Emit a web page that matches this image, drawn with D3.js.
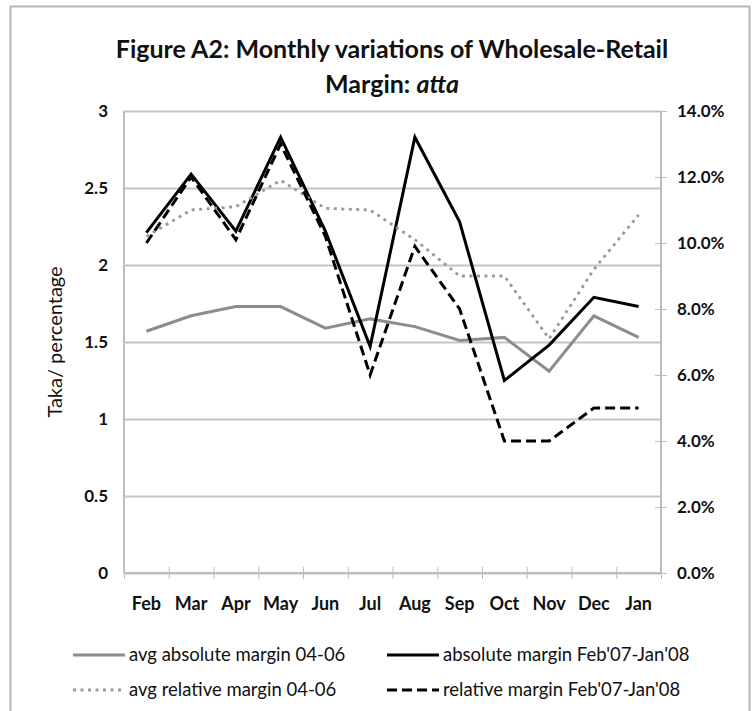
<!DOCTYPE html>
<html>
<head>
<meta charset="utf-8">
<script src="https://cdn.jsdelivr.net/npm/d3@7/dist/d3.min.js"></script>
<style>
  html, body { margin: 0; padding: 0; background: #fff; overflow: hidden; }
  #chart { width: 756px; height: 711px; }
  svg { display: block; }
  text { font-family: Lato, "Open Sans", sans-serif; fill: #111; }
</style>
</head>
<body>
<div id="chart"></div>
<script>
// Chart data
const months = ['Feb', 'Mar', 'Apr', 'May', 'Jun', 'Jul', 'Aug', 'Sep', 'Oct', 'Nov', 'Dec', 'Jan'];
// Taka, left axis
const avgAbsMargin = [1.57, 1.67, 1.73, 1.73, 1.59, 1.65, 1.60, 1.51, 1.53, 1.31, 1.67, 1.53];
const absMargin = [2.21, 2.59, 2.22, 2.83, 2.22, 1.47, 2.83, 2.28, 1.25, 1.48, 1.79, 1.73];
// percent, right axis
const avgRelMargin = [10.2, 11.0, 11.1, 11.9, 11.05, 11.0, 10.1, 9.0, 9.0, 7.1, 9.2, 10.85];
const relMargin = [10.0, 12.0, 10.1, 13.0, 10.2, 6.0, 9.9, 8.0, 4.0, 4.0, 5.0, 5.0];
const leftTicks = [0, 0.5, 1, 1.5, 2, 2.5, 3];
const rightTicks = [0, 2, 4, 6, 8, 10, 12, 14];

const seriesNames = [
  'avg absolute margin 04-06',
  "absolute margin Feb'07-Jan'08",
  'avg relative margin 04-06',
  "relative margin Feb'07-Jan'08",
];

const width = 756;
const height = 711;
const margins = { top: 111, right: 95, bottom: 138, left: 124 };
const innerWidth = width - margins.left - margins.right;
const innerHeight = height - margins.top - margins.bottom;

// line styles for each series
const styles = [
  { color: '#8c8c8c', width: 3, dash: null, axis: 'left', values: avgAbsMargin },
  { color: '#000', width: 3, dash: null, axis: 'left', values: absMargin },
  { color: '#9a9a9a', width: 2.8, dash: '3,4.5', axis: 'right', values: avgRelMargin },
  { color: '#000', width: 3, dash: '10,5', axis: 'right', values: relMargin },
];

const svg = d3.select('#chart')
  .append('svg')
  .attr('width', width)
  .attr('height', height);

// outer chart border (bottom edge runs off the picture)
svg.append('rect')
  .attr('x', 10.5)
  .attr('y', 6.5)
  .attr('width', 739)
  .attr('height', 720)
  .attr('fill', 'none')
  .attr('stroke', '#b5b5b5')
  .attr('stroke-width', 2);

// title
const title = svg.append('text')
  .attr('text-anchor', 'middle')
  .attr('font-size', 25)
  .attr('font-weight', 'bold');
title.append('tspan')
  .attr('x', 392).attr('y', 58)
  .text('Figure A2: Monthly variations of Wholesale-Retail');
const t2 = title.append('tspan')
  .attr('x', 392).attr('y', 93);
t2.append('tspan').text('Margin: ');
t2.append('tspan').attr('font-style', 'italic').text('atta');

const g = svg.append('g')
  .attr('transform', `translate(${margins.left}, ${margins.top})`);

// scales
const xScale = d3.scaleBand()
  .domain(months)
  .range([0, innerWidth]);

const xEdges = d3.scaleLinear()
  .domain([0, months.length])
  .range([0, innerWidth]);

const yLeft = d3.scaleLinear()
  .domain([0, 3])
  .range([innerHeight, 0]);

const yRight = d3.scaleLinear()
  .domain([0, 14])
  .range([innerHeight, 0]);

// left axis with gridlines
const yAxis = d3.axisLeft(yLeft)
  .tickValues(leftTicks)
  .tickFormat(d3.format('~g'))
  .tickSize(-innerWidth)
  .tickPadding(16);

const gy = g.append('g').attr('class', 'y axis').call(yAxis)
  .attr('font-family', null).attr('font-size', null);
gy.select('.domain').attr('stroke', '#bdbdbd').attr('stroke-width', 2).attr('d', `M0,0V${innerHeight}`);
gy.selectAll('.tick line').attr('stroke', '#c4c4c4').attr('stroke-width', 2);
gy.selectAll('.tick text')
  .attr('font-size', 17).attr('font-weight', 'bold')
  .attr('text-anchor', 'end').attr('fill', '#111');

// right axis, cross ticks
const yAxisR = d3.axisRight(yRight)
  .tickValues(rightTicks)
  .tickFormat(d => d3.format('.1f')(d) + '%')
  .tickSize(6)
  .tickPadding(10);

const gyr = g.append('g')
  .attr('class', 'y2 axis')
  .attr('transform', `translate(${innerWidth}, 0)`)
  .call(yAxisR)
  .attr('font-family', null).attr('font-size', null);
gyr.select('.domain').attr('stroke', '#bdbdbd').attr('stroke-width', 2).attr('d', `M0,0V${innerHeight}`);
gyr.selectAll('.tick line').attr('stroke', '#bdbdbd').attr('x1', -6).attr('x2', 6);
gyr.selectAll('.tick text')
  .attr('font-size', 17).attr('font-weight', 'bold')
  .attr('text-anchor', 'start').attr('fill', '#111');

// bottom axis: ticks on category edges, labels in the middle
const xTicks = d3.axisBottom(xEdges)
  .ticks(months.length)
  .tickFormat('')
  .tickSize(6);

const gxt = g.append('g')
  .attr('class', 'x ticks')
  .attr('transform', `translate(0, ${innerHeight})`)
  .call(xTicks);
gxt.selectAll('.tick text').remove();
gxt.select('.domain').attr('stroke', '#bdbdbd').attr('stroke-width', 2).attr('d', `M0,0H${innerWidth}`);
gxt.selectAll('.tick line').attr('stroke', '#bdbdbd').attr('y1', -6).attr('y2', 6);

const xAxis = d3.axisBottom(xScale)
  .tickSize(0)
  .tickPadding(24);

const gx = g.append('g')
  .attr('class', 'x axis')
  .attr('transform', `translate(0, ${innerHeight})`)
  .call(xAxis)
  .attr('font-family', null).attr('font-size', null);
gx.select('.domain').remove();
gx.selectAll('.tick text')
  .attr('font-size', 18).attr('font-weight', 'bold')
  .attr('text-anchor', 'middle').attr('fill', '#111');

// y axis title
svg.append('text')
  .attr('transform', 'translate(62, 342) rotate(-90)')
  .attr('text-anchor', 'middle')
  .attr('font-size', 20)
  .text('Taka/ percentage');

// lines
styles.forEach(s => {
  const yScale = s.axis === 'left' ? yLeft : yRight;
  const line = d3.line()
    .x((d, i) => xScale(months[i]) + xScale.bandwidth() / 2)
    .y(d => yScale(d));

  g.append('path')
    .datum(s.values)
    .attr('fill', 'none')
    .attr('stroke', s.color)
    .attr('stroke-width', s.width)
    .attr('stroke-dasharray', s.dash)
    .attr('stroke-linejoin', 'miter')
    .attr('d', line);
});

// legend, two by two
const legendPos = [
  { x: 73, y: 655 },
  { x: 387, y: 655 },
  { x: 73, y: 690 },
  { x: 387, y: 690 },
];

const legend = svg.append('g').attr('class', 'legend');
seriesNames.forEach((name, i) => {
  const p = legendPos[i];
  const s = styles[i];
  legend.append('line')
    .attr('x1', p.x).attr('x2', p.x + 52)
    .attr('y1', p.y).attr('y2', p.y)
    .attr('stroke', s.color)
    .attr('stroke-width', s.width)
    .attr('stroke-dasharray', s.dash);
  legend.append('text')
    .attr('x', p.x + 56)
    .attr('y', p.y)
    .attr('dy', '0.35em')
    .attr('font-size', 18.5)
    .text(name);
});
</script>
</body>
</html>
